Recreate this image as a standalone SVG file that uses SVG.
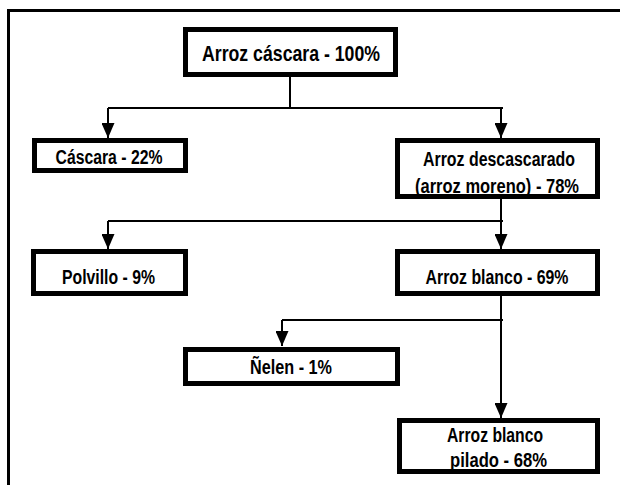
<svg xmlns="http://www.w3.org/2000/svg" width="620" height="485" viewBox="0 0 620 485">
  <style>
    .box { fill: #ffffff; stroke: #000000; stroke-width: 5; }
    .lbl { font-family: "Liberation Sans Narrow", "Liberation Sans", Arial, sans-serif; font-weight: bold; font-size: 19.5px; fill: #000000; text-anchor: middle; }
    .big { font-size: 21.5px; }
    .wire { fill: none; stroke: #000000; stroke-width: 2; }
    .frame { fill: none; stroke: #000000; stroke-width: 3; }
  </style>
  <defs>
    <marker id="arrow" viewBox="0 0 15 13" refX="15" refY="6.5" markerWidth="15" markerHeight="13" markerUnits="userSpaceOnUse" orient="auto">
      <path d="M0,0 L15,6.5 L0,13 Z" fill="#000000"/>
    </marker>
  </defs>

  <rect width="620" height="485" fill="#ffffff"/>
  <!-- outer frame (only top and left edges fall inside the page) -->
  <path class="frame" d="M8.5,490 V10.5 H625"/>

  <g id="connectors">
    <path class="wire" d="M290,77 V108 M108,108 H503"/>
    <path class="wire" d="M108,108 V138" marker-end="url(#arrow)"/>
    <path class="wire" d="M501,108 V138" marker-end="url(#arrow)"/>

    <path class="wire" d="M108,221 H503"/>
    <path class="wire" d="M108,221 V249" marker-end="url(#arrow)"/>
    <path class="wire" d="M501,199 V249" marker-end="url(#arrow)"/>

    <path class="wire" d="M282,320 H503"/>
    <path class="wire" d="M282,320 V346" marker-end="url(#arrow)"/>
    <path class="wire" d="M501,296 V418" marker-end="url(#arrow)"/>
  </g>

  <g id="arroz-cascara">
    <rect class="box" x="185.5" y="29.5" width="210" height="45"/>
    <text class="lbl big" x="291" y="61" textLength="178" lengthAdjust="spacingAndGlyphs">Arroz cáscara - 100%</text>
  </g>

  <g id="cascara">
    <rect class="box" x="34.5" y="140.5" width="151" height="30"/>
    <text class="lbl" x="109" y="164" textLength="107" lengthAdjust="spacingAndGlyphs">Cáscara - 22%</text>
  </g>

  <g id="arroz-descascarado">
    <rect class="box" x="397.5" y="140.5" width="200" height="56" style="stroke:none"/>
    <text class="lbl" x="499" y="166" textLength="152" lengthAdjust="spacingAndGlyphs">Arroz descascarado</text>
    <text class="lbl" x="497" y="193" textLength="164" lengthAdjust="spacingAndGlyphs">(arroz moreno) - 78%</text>
    <rect class="box" x="397.5" y="140.5" width="200" height="56" style="fill:none"/>
  </g>

  <g id="polvillo">
    <rect class="box" x="33.5" y="251.5" width="152" height="42"/>
    <text class="lbl" x="108.5" y="284" textLength="93" lengthAdjust="spacingAndGlyphs">Polvillo - 9%</text>
  </g>

  <g id="arroz-blanco">
    <rect class="box" x="397.5" y="251.5" width="200" height="42"/>
    <text class="lbl" x="497" y="284" textLength="143" lengthAdjust="spacingAndGlyphs">Arroz blanco - 69%</text>
  </g>

  <g id="nelen">
    <rect class="box" x="185.5" y="349.5" width="212" height="34"/>
    <text class="lbl" x="291" y="374" textLength="82" lengthAdjust="spacingAndGlyphs">Ñelen - 1%</text>
  </g>

  <g id="arroz-blanco-pilado">
    <rect class="box" x="399.5" y="420.5" width="198" height="51" style="stroke:none"/>
    <text class="lbl" x="495" y="442" textLength="96" lengthAdjust="spacingAndGlyphs">Arroz blanco</text>
    <text class="lbl" x="498.5" y="467" textLength="97" lengthAdjust="spacingAndGlyphs">pilado - 68%</text>
    <rect class="box" x="399.5" y="420.5" width="198" height="51" style="fill:none"/>
  </g>
</svg>
